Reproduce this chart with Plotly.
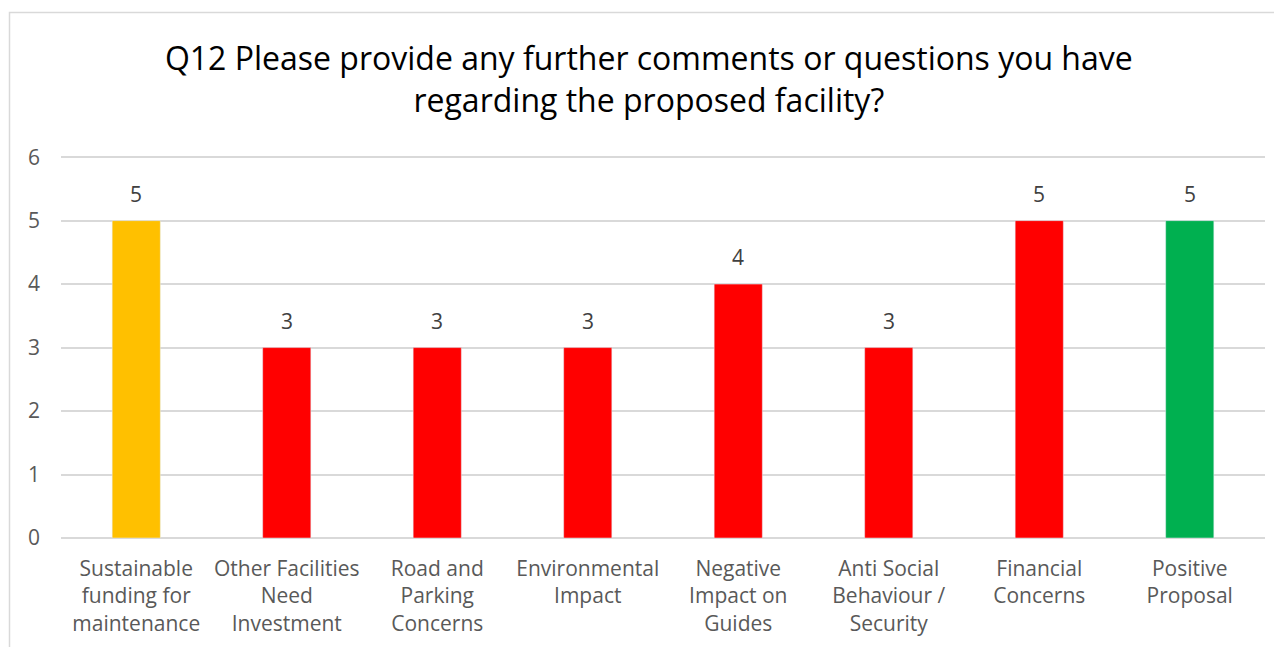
import plotly.graph_objects as go

categories = [
    "Sustainable<br>funding for<br>maintenance",
    "Other Facilities<br>Need<br>Investment",
    "Road and<br>Parking<br>Concerns",
    "Environmental<br>Impact",
    "Negative<br>Impact on<br>Guides",
    "Anti Social<br>Behaviour /<br>Security",
    "Financial<br>Concerns",
    "Positive<br>Proposal",
]
counts = [5, 3, 3, 3, 4, 3, 5, 5]
bar_colors = ["#FFC000", "#FF0000", "#FF0000", "#FF0000",
              "#FF0000", "#FF0000", "#FF0000", "#00B050"]

title_text = ("Q12 Please provide any further comments or questions you have<br>"
              "regarding the proposed facility?")

FONT = "Open Sans"
YMAX = 6.05  # a bit above 6 so the top gridline is drawn

fig = go.Figure(go.Bar(
    x=categories,
    y=counts,
    marker_color=bar_colors,
    cliponaxis=False,
))

# value labels sit a little above each bar, like the Excel original
for c, v in zip(categories, counts):
    fig.add_annotation(x=c, y=v, text=str(v), showarrow=False,
                       yanchor="middle", yshift=27,
                       font=dict(family=FONT, size=21, color="#404040"))

# the page has an 8px body margin, so the figure is drawn 8px smaller
OFF = 8
W, H = 1282 - OFF, 647 - OFF
unit = (538 - 157) / 6
ml, mr, mb = 61 - OFF, 17, 109
mt = round(157 - OFF - (YMAX - 6) * unit)
pw = W - ml - mr
ph = H - mt - mb

fig.update_layout(
    width=W, height=H,
    margin=dict(l=ml, r=mr, t=mt, b=mb),
    paper_bgcolor="white",
    plot_bgcolor="white",
    bargap=0.68,
    showlegend=False,
    font=dict(family=FONT, size=21, color="#595959"),
    title=dict(
        text=title_text,
        x=0.503, xanchor="center",
        y=1 - 62 / H, yanchor="middle",
        font=dict(family=FONT, size=32, color="#000000"),
    ),
    # chart area border
    shapes=[dict(
        type="rect", xref="paper", yref="paper",
        x0=(9.5 - OFF - ml) / pw, x1=(W + 20 - ml) / pw,
        y0=-(mb + 20) / ph, y1=1 + (mt - (12.5 - OFF)) / ph,
        line=dict(color="#D9D9D9", width=1.5),
        fillcolor="rgba(0,0,0,0)",
        layer="below",
    )],
)

fig.update_yaxes(
    range=[0, YMAX], dtick=1,
    showgrid=True, gridcolor="#D9D9D9", gridwidth=1.5,
    zeroline=True, zerolinecolor="#D9D9D9", zerolinewidth=1.5,
    showline=False, ticks="",
    ticklabelstandoff=20, automargin=False,
    tickfont=dict(family=FONT, size=21, color="#595959"),
)
fig.update_xaxes(
    showgrid=False, showline=False, ticks="",
    ticklabelstandoff=16, automargin=False,
    tickfont=dict(family=FONT, size=21, color="#595959"),
)

fig.write_html("out.html")
